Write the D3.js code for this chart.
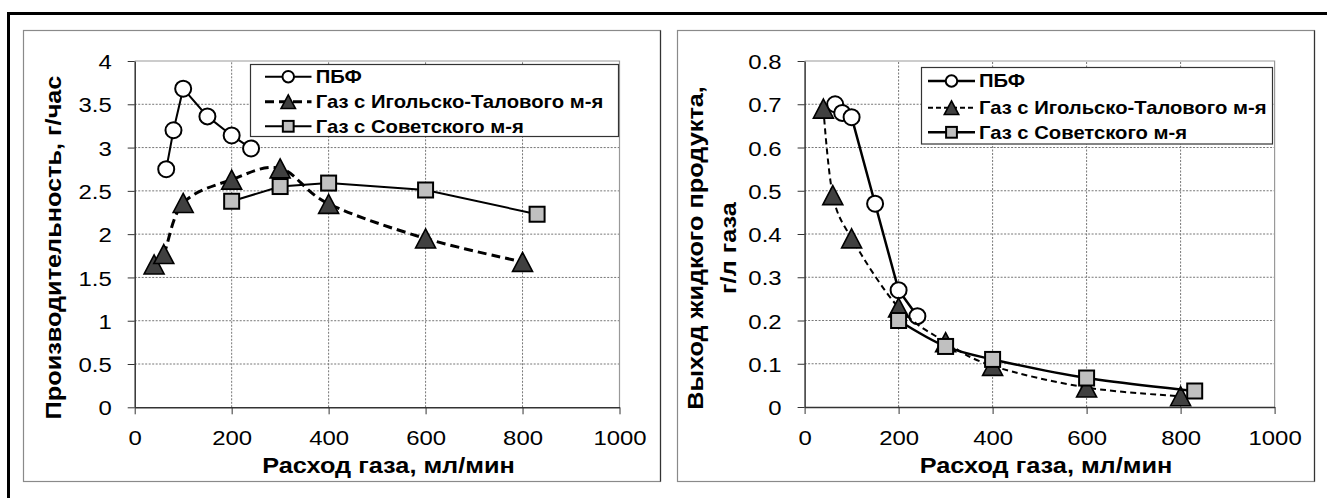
<!DOCTYPE html>
<html><head><meta charset="utf-8">
<script src="https://cdn.jsdelivr.net/npm/d3@7"></script>
<style>body{margin:0;background:#fff}svg{display:block}</style>
</head><body>
<script>
// ---- data ----
const xTicks = [0, 200, 400, 600, 800, 1000];
const xTickLabels = ["0", "200", "400", "600", "800", "1000"];
const prodTicks = [0, 0.5, 1, 1.5, 2, 2.5, 3, 3.5, 4];
const prodTickLabels = ["0", "0.5", "1", "1.5", "2", "2.5", "3", "3.5", "4"];
const yieldTicks = [0, 0.1, 0.2, 0.3, 0.4, 0.5, 0.6, 0.7, 0.8];
const yieldTickLabels = ["0", "0.1", "0.2", "0.3", "0.4", "0.5", "0.6", "0.7", "0.8"];
const seriesNames = ["ПБФ", "Газ с Игольско-Талового м-я", "Газ с Советского м-я"];
const pbfX = [65, 80, 100, 150, 200, 240];
const igolX = [40, 60, 100, 200, 300, 400, 600, 800];
const sovX = [200, 300, 400, 600, 830];
const pbfProd = [2.75, 3.2, 3.68, 3.36, 3.14, 2.99];
const igolProd = [1.65, 1.77, 2.36, 2.63, 2.76, 2.35, 1.95, 1.68];
const sovProd = [2.38, 2.55, 2.59, 2.51, 2.23];
const pbfYield = [0.70, 0.68, 0.67, 0.47, 0.27, 0.21];
const igolYield = [0.69, 0.49, 0.39, 0.23, 0.15, 0.095, 0.045, 0.025];
const sovYield = [0.20, 0.14, 0.11, 0.067, 0.037];
const xTitle = "Расход газа, мл/мин";
const leftYTitle = ["Производительность, г/час"];
const rightYTitle = ["Выход жидкого продукта,", "г/л газа"];

// ---- drawing ----
const W = 1327, H = 498;
const FONT = "'Liberation Sans', Arial, Helvetica, sans-serif";
const SX = 1.14;
const svg = d3.select("body").append("svg").attr("width", W).attr("height", H);
svg.append("rect").attr("width", W).attr("height", H).attr("fill", "#fff");

function txt(parent, x, y, s, o = {}) {
  const g = parent.append("g").attr("transform", `translate(${x},${y}) rotate(${o.rot || 0})`);
  return g.append("text").attr("transform", `scale(${o.sx || SX},1)`)
    .attr("text-anchor", o.anchor || "start")
    .attr("font-family", FONT).attr("font-size", o.size || 21)
    .attr("font-weight", o.bold ? "bold" : "normal")
    .attr("dy", o.dy || 0).attr("fill", "#000").text(s);
}

// outer frame
svg.append("rect").attr("x", 8.5).attr("y", 13.5).attr("width", W + 20).attr("height", H + 20)
  .attr("fill", "none").attr("stroke", "#000").attr("stroke-width", 3);

function marker(g, type, cx, cy, s) {
  if (type === "circle") {
    g.append("circle").attr("cx", cx).attr("cy", cy).attr("r", 8 * s)
      .attr("fill", "#fff").attr("stroke", "#000").attr("stroke-width", 2);
  } else if (type === "tri") {
    const w = 20 * s, h = 19 * s;
    g.append("path").attr("d", `M${cx},${cy - h / 2}L${cx + w / 2},${cy + h / 2}L${cx - w / 2},${cy + h / 2}Z`)
      .attr("fill", "#404040").attr("stroke", "#000").attr("stroke-width", 1.6).attr("stroke-linejoin", "miter");
  } else {
    const a = 15 * s;
    g.append("rect").attr("x", cx - a / 2).attr("y", cy - a / 2).attr("width", a).attr("height", a)
      .attr("fill", "#c0c0c0").attr("stroke", "#000").attr("stroke-width", 2);
  }
}

function chart(cfg) {
  const g = svg.append("g");
  // chart box
  g.append("rect").attr("x", cfg.box[0]).attr("y", cfg.box[1]).attr("width", cfg.box[2]).attr("height", cfg.box[3])
    .attr("fill", "#fff").attr("stroke", "#8a8a8a").attr("stroke-width", 1.2);
  g.append("line").attr("x1", cfg.box[0] + cfg.box[2]).attr("x2", cfg.box[0] + cfg.box[2])
    .attr("y1", cfg.box[1]).attr("y2", cfg.box[1] + cfg.box[3]).attr("stroke", "#333").attr("stroke-width", 1.2);

  const x = d3.scaleLinear().domain([0, 1000]).range([cfg.px0, cfg.px1]);
  const y = d3.scaleLinear().domain([0, cfg.ymax]).range([cfg.py0, cfg.py1]);

  // gridlines
  const grid = g.append("g").attr("stroke", "#777").attr("stroke-width", 1).attr("stroke-dasharray", "2,1.5");
  cfg.yTicks.slice(1, -1).forEach(v => grid.append("line").attr("x1", x(0)).attr("x2", x(1000)).attr("y1", y(v)).attr("y2", y(v)));
  xTicks.slice(1, -1).forEach(v => grid.append("line").attr("x1", x(v)).attr("x2", x(v)).attr("y1", y(0)).attr("y2", y(cfg.ymax)));
  // plot border top/right
  g.append("path").attr("d", `M${x(0)},${y(cfg.ymax)}H${x(1000)}V${y(0)}`)
    .attr("fill", "none").attr("stroke", "#999").attr("stroke-width", 1.2);

  // axes
  const ya = g.append("g").attr("transform", `translate(${x(0)},0)`)
    .call(d3.axisLeft(y).tickValues(cfg.yTicks).tickFormat((d, i) => cfg.yLabels[i]).tickSize(7).tickSizeOuter(0));
  const xa = g.append("g").attr("transform", `translate(0,${y(0)})`)
    .call(d3.axisBottom(x).tickValues(xTicks).tickFormat((d, i) => xTickLabels[i]).tickSize(7).tickSizeOuter(0));
  [ya, xa].forEach(a => {
    a.select(".domain").attr("stroke", "#333").attr("stroke-width", 1.5);
    a.selectAll(".tick line").attr("stroke", "#333").attr("stroke-width", 1);
    a.selectAll(".tick text").attr("font-family", FONT).attr("font-size", 21).attr("fill", "#000")
      .attr("transform", `scale(${SX},1)`);
  });
  ya.selectAll(".tick text").attr("x", -23 / SX).attr("dy", "0.36em");
  xa.selectAll(".tick text").attr("y", 38).attr("dy", null);

  // series
  const line = d3.line().x(d => x(d[0])).y(d => y(d[1]));
  cfg.series.forEach(s => {
    const pts = s.xs.map((v, i) => [v, s.ys[i]]);
    g.append("path").attr("d", line.curve(s.smooth ? d3.curveCardinal.tension(0) : d3.curveLinear)(pts))
      .attr("fill", "none").attr("stroke", "#000").attr("stroke-width", s.w)
      .attr("stroke-dasharray", s.dash || null);
    pts.forEach(p => marker(g, s.type, x(p[0]), y(p[1]), 1));
  });

  // legend
  const L = cfg.legend;
  g.append("rect").attr("x", L.x).attr("y", L.y).attr("width", L.w).attr("height", L.h)
    .attr("fill", "#fff").attr("stroke", "#333").attr("stroke-width", 1.2);
  cfg.series.forEach((s, i) => {
    const cy = L.rows[i];
    g.append("line").attr("x1", L.lx0).attr("x2", L.lx1).attr("y1", cy).attr("y2", cy)
      .attr("stroke", "#000").attr("stroke-width", s.w).attr("stroke-dasharray", s.ldash || s.dash || null);
    marker(g, s.type, (L.lx0 + L.lx1) / 2, cy, 0.72);
    txt(g, L.tx, cy, seriesNames[i], { bold: true, size: 17.5, sx: 1.157, dy: "0.36em" });
  });

  // titles
  txt(g, cfg.xtx, cfg.xty, xTitle, { bold: true, size: 22, sx: 1.15, anchor: "middle" });
  cfg.ytitle.forEach((t, i) => txt(g, cfg.ytx[i], cfg.yty, t, { bold: true, size: 22, sx: 1.15, anchor: "middle", rot: -90 }));
}

chart({
  box: [23.5, 30.5, 637, 451], px0: 134.7, px1: 619.5, py0: 407.3, py1: 61, ymax: 4,
  yTicks: prodTicks, yLabels: prodTickLabels,
  series: [
    { xs: pbfX, ys: pbfProd, type: "circle", w: 2, smooth: false },
    { xs: igolX, ys: igolProd, type: "tri", w: 3, dash: "9,5", smooth: true },
    { xs: sovX, ys: sovProd, type: "square", w: 2, smooth: false }
  ],
  legend: { x: 250.5, y: 64.5, w: 368, h: 72, rows: [76.7, 101.7, 126.3], lx0: 265, lx1: 311.5, tx: 315.7 },
  xtx: 388.5, xty: 473, ytitle: leftYTitle, ytx: [61], yty: 247.5
});

chart({
  box: [677.5, 30.5, 637, 451], px0: 804.6, px1: 1274.6, py0: 407, py1: 61, ymax: 0.8,
  yTicks: yieldTicks, yLabels: yieldTickLabels,
  series: [
    { xs: pbfX, ys: pbfYield, type: "circle", w: 2.5, smooth: false },
    { xs: igolX, ys: igolYield, type: "tri", w: 2, dash: "6,4", ldash: "5,3", smooth: true },
    { xs: sovX, ys: sovYield, type: "square", w: 2.5, smooth: true }
  ],
  legend: { x: 921.5, y: 67.5, w: 351, h: 76.5, rows: [81, 107.7, 132.3], lx0: 928, lx1: 975, tx: 979 },
  xtx: 1046, xty: 472.7, ytitle: rightYTitle, ytx: [703.4, 735.5], yty: 248
});
</script>
</body></html>
